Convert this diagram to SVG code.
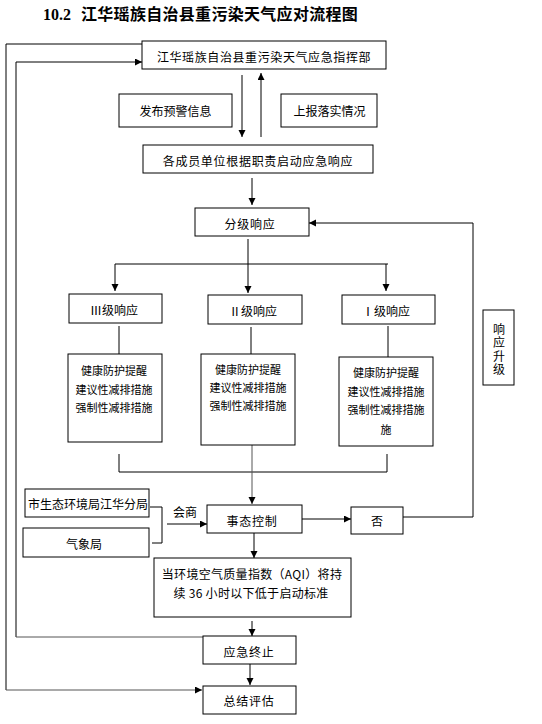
<svg xmlns="http://www.w3.org/2000/svg" width="542" height="724" viewBox="0 0 542 724">
<style>
.box{fill:#fff;stroke:#000;stroke-width:1}
.t{font-family:"Noto Sans CJK SC","Liberation Sans",sans-serif;font-size:12px;fill:#000;text-anchor:middle;dominant-baseline:central}
.s{font-size:11px}
.ln{fill:none;stroke:#000;stroke-width:1}
.g{stroke:#555}
.title{font-family:"Liberation Serif","Noto Sans CJK SC",serif;font-size:16px;font-weight:bold;fill:#000}
</style>
<defs>
<marker id="ah" markerUnits="userSpaceOnUse" markerWidth="8" markerHeight="8" refX="7" refY="3.5" orient="auto">
<path d="M0,0 L7,3.5 L0,7 z" fill="#000"/>
</marker>
</defs>
<rect width="542" height="724" fill="#fff"/>
<text class="title" x="43" y="20">10.2<tspan x="81" font-family="Noto Sans CJK SC,sans-serif" letter-spacing="0.3">江华瑶族自治县重污染天气应对流程图</tspan></text>

<g id="connectors">
<path class="ln" d="M142,44 H6 V690"/>
<path class="ln g" d="M6,690 H202" marker-end="url(#ah)"/>
<path class="ln" d="M16,637 V62 H142" marker-end="url(#ah)"/>
<path class="ln g" d="M16,637 H204"/>
<path class="ln" d="M242,75 V137" marker-end="url(#ah)"/>
<path class="ln" d="M261,137 V73" marker-end="url(#ah)"/>
<path class="ln" d="M252,178 V205" marker-end="url(#ah)"/>
<path class="ln" d="M248,239 V293" marker-end="url(#ah)"/>
<path class="ln" d="M115,264 H388"/>
<path class="ln" d="M115,264 V291" marker-end="url(#ah)"/>
<path class="ln" d="M386,264 V291" marker-end="url(#ah)"/>
<path class="ln" d="M119,326 V354"/>
<path class="ln" d="M251,327 V354"/>
<path class="ln" d="M388,326 V357"/>
<path class="ln" d="M119,454 V472 H387 V454"/>
<path class="ln g" d="M252,445 V504" marker-end="url(#ah)"/>
<path class="ln" d="M150,507 H162 V543 H152"/>
<path class="ln" d="M167,524 H207" marker-end="url(#ah)"/>
<path class="ln" d="M302,519 H351" marker-end="url(#ah)"/>
<path class="ln" d="M403,517 H473 V223 H309" marker-end="url(#ah)"/>
<path class="ln" d="M254,533 V558" marker-end="url(#ah)"/>
<path class="ln" d="M252,621 V636" marker-end="url(#ah)"/>
<path class="ln" d="M250,664 V685" marker-end="url(#ah)"/>
</g>

<g id="n-hq"><rect class="box" x="142" y="41" width="244" height="28"/><text class="t" x="264" y="56" letter-spacing="0.6">江华瑶族自治县重污染天气应急指挥部</text></g>
<g id="n-warn"><rect class="box" x="119" y="94" width="113" height="33"/><text class="t" x="175.5" y="110.5">发布预警信息</text></g>
<g id="n-report"><rect class="box" x="281" y="94" width="96" height="33"/><text class="t" x="329.5" y="110.5">上报落实情况</text></g>
<g id="n-members"><rect class="box" x="143" y="145" width="230" height="28"/><text class="t" x="258" y="160" letter-spacing="0.7">各成员单位根据职责启动应急响应</text></g>
<g id="n-grade"><rect class="box" x="195" y="208" width="114" height="28"/><text class="t" x="250" y="223" letter-spacing="0.7">分级响应</text></g>
<g id="n-l3"><rect class="box" x="69" y="294" width="93" height="29"/><text class="t" x="114" y="309">Ⅲ级响应</text></g>
<g id="n-l2"><rect class="box" x="208" y="295" width="94" height="29"/><text class="t" x="253" y="310">Ⅱ级响应</text></g>
<g id="n-l1"><rect class="box" x="342" y="295" width="93" height="29"/><text class="t" x="386" y="310">Ⅰ级响应</text></g>
<g id="n-m3"><rect class="box" x="68" y="354" width="94" height="88"/>
<text class="t s" x="114" y="370">健康防护提醒</text><text class="t s" x="114" y="389">建议性减排措施</text><text class="t s" x="114" y="407">强制性减排措施</text></g>
<g id="n-m2"><rect class="box" x="201" y="354" width="94" height="91"/>
<text class="t s" x="248" y="369">健康防护提醒</text><text class="t s" x="248" y="387">建议性减排措施</text><text class="t s" x="248" y="405">强制性减排措施</text></g>
<g id="n-m1"><rect class="box" x="339" y="357" width="94" height="89"/>
<text class="t s" x="386" y="372">健康防护提醒</text><text class="t s" x="386" y="391">建议性减排措施</text><text class="t s" x="386" y="409">强制性减排措施</text><text class="t s" x="386" y="429">施</text></g>
<g id="n-up"><rect class="box" x="483" y="310" width="31" height="75"/>
<text class="t" x="499" y="350" writing-mode="vertical-rl" letter-spacing="1.5">响应升级</text></g>
<g id="n-env"><rect class="box" x="25" y="489" width="124" height="28"/><text class="t" x="88" y="503" font-size="11.6">市生态环境局江华分局</text></g>
<g id="n-met"><rect class="box" x="23" y="528" width="126" height="29"/><text class="t" x="84" y="543">气象局</text></g>
<text class="t" x="185" y="511">会商</text>
<g id="n-ctrl"><rect class="box" x="207" y="505" width="95" height="28"/><text class="t" x="252" y="520" letter-spacing="0.7">事态控制</text></g>
<g id="n-no"><rect class="box" x="351" y="507" width="52" height="27"/><text class="t" x="377" y="520">否</text></g>
<g id="n-aqi"><rect class="box" x="154" y="558" width="197" height="59"/>
<text class="t" x="252" y="573" letter-spacing="0.3">当环境空气质量指数（AQI）将持</text><text class="t" x="251" y="592" letter-spacing="0.3">续 36 小时以下低于启动标准</text></g>
<g id="n-end"><rect class="box" x="203" y="636" width="93" height="28"/><text class="t" x="249" y="651" letter-spacing="0.7">应急终止</text></g>
<g id="n-sum"><rect class="box" x="203" y="686" width="93" height="28"/><text class="t" x="249" y="700" letter-spacing="0.7">总结评估</text></g>
</svg>
